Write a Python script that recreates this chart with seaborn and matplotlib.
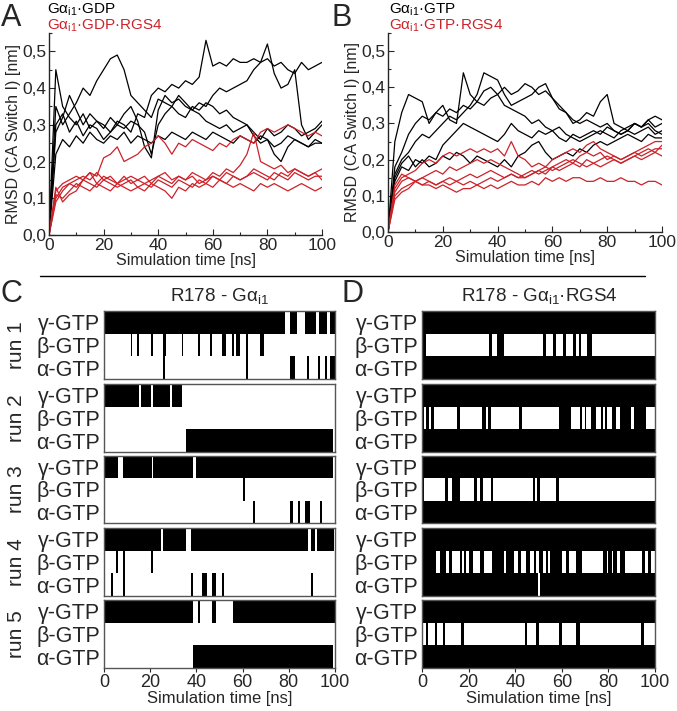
import numpy as np
import pandas as pd
import matplotlib
matplotlib.use("Agg")
import matplotlib.pyplot as plt
import matplotlib.ticker as mtick
from matplotlib.lines import Line2D
import seaborn as sns

# %% Data
# RMSD traces, one value every 2.5 ns (0..100 ns)
time_ns = np.arange(0, 100.1, 2.5)

gdp_runs = [
    [0.0, 0.30, 0.33, 0.28, 0.31, 0.27, 0.30, 0.29, 0.26, 0.28, 0.31, 0.30, 0.28, 0.33, 0.32, 0.38, 0.40, 0.39, 0.41, 0.40, 0.42,
     0.41, 0.43, 0.53, 0.46, 0.47, 0.46, 0.48, 0.47, 0.47, 0.48, 0.47, 0.48, 0.46, 0.47, 0.45, 0.44, 0.47, 0.45, 0.46, 0.47],
    [0.0, 0.35, 0.30, 0.33, 0.36, 0.40, 0.38, 0.42, 0.45, 0.48, 0.49, 0.45, 0.38, 0.36, 0.34, 0.32, 0.37, 0.36, 0.35, 0.38, 0.36,
     0.34, 0.36, 0.35, 0.38, 0.40, 0.39, 0.40, 0.41, 0.42, 0.45, 0.47, 0.52, 0.44, 0.40, 0.41, 0.45, 0.30, 0.26, 0.28, 0.30],
    [0.0, 0.45, 0.35, 0.32, 0.30, 0.33, 0.29, 0.31, 0.30, 0.28, 0.30, 0.29, 0.31, 0.30, 0.28, 0.22, 0.30, 0.33, 0.35, 0.33, 0.32,
     0.35, 0.34, 0.36, 0.35, 0.33, 0.34, 0.32, 0.31, 0.30, 0.27, 0.25, 0.26, 0.22, 0.20, 0.24, 0.26, 0.25, 0.24, 0.26, 0.25],
    [0.0, 0.22, 0.26, 0.24, 0.27, 0.25, 0.28, 0.26, 0.25, 0.27, 0.26, 0.28, 0.25, 0.27, 0.26, 0.25, 0.27, 0.26, 0.28, 0.27, 0.26,
     0.28, 0.27, 0.26, 0.28, 0.27, 0.26, 0.25, 0.27, 0.26, 0.25, 0.27, 0.26, 0.24, 0.25, 0.27, 0.26, 0.25, 0.24, 0.25, 0.25],
    [0.0, 0.28, 0.32, 0.38, 0.34, 0.30, 0.33, 0.31, 0.29, 0.32, 0.30, 0.33, 0.35, 0.31, 0.24, 0.21, 0.34, 0.38, 0.36, 0.37, 0.35,
     0.34, 0.33, 0.31, 0.30, 0.29, 0.30, 0.28, 0.29, 0.30, 0.28, 0.26, 0.29, 0.27, 0.28, 0.30, 0.29, 0.27, 0.28, 0.29, 0.31],
]
gdp_rgs4_runs = [
    [0.0, 0.12, 0.14, 0.15, 0.16, 0.15, 0.17, 0.16, 0.21, 0.22, 0.24, 0.20, 0.21, 0.22, 0.24, 0.25, 0.27, 0.25, 0.22, 0.25, 0.24,
     0.26, 0.25, 0.24, 0.23, 0.25, 0.24, 0.26, 0.27, 0.26, 0.25, 0.28, 0.29, 0.28, 0.29, 0.30, 0.29, 0.28, 0.27, 0.28, 0.27],
    [0.0, 0.10, 0.13, 0.14, 0.15, 0.16, 0.15, 0.17, 0.15, 0.16, 0.14, 0.15, 0.16, 0.15, 0.14, 0.15, 0.16, 0.17, 0.15, 0.16, 0.15,
     0.17, 0.16, 0.15, 0.17, 0.16, 0.18, 0.17, 0.19, 0.22, 0.28, 0.20, 0.19, 0.18, 0.19, 0.17, 0.18, 0.17, 0.16, 0.17, 0.18],
    [0.0, 0.09, 0.12, 0.14, 0.13, 0.15, 0.14, 0.13, 0.15, 0.14, 0.13, 0.14, 0.15, 0.13, 0.14, 0.13, 0.15, 0.14, 0.13, 0.15, 0.14,
     0.13, 0.15, 0.14, 0.16, 0.15, 0.14, 0.16, 0.15, 0.16, 0.17, 0.16, 0.15, 0.17, 0.16, 0.15, 0.17, 0.16, 0.15, 0.16, 0.16],
    [0.0, 0.11, 0.10, 0.12, 0.14, 0.13, 0.12, 0.14, 0.13, 0.12, 0.14, 0.13, 0.12, 0.13, 0.12, 0.14, 0.13, 0.12, 0.10, 0.13, 0.12,
     0.14, 0.13, 0.14, 0.13, 0.15, 0.14, 0.13, 0.14, 0.13, 0.12, 0.14, 0.13, 0.14, 0.13, 0.12, 0.13, 0.14, 0.13, 0.12, 0.13],
    [0.0, 0.13, 0.09, 0.11, 0.12, 0.15, 0.17, 0.14, 0.16, 0.15, 0.14, 0.16, 0.14, 0.15, 0.16, 0.14, 0.16, 0.15, 0.14, 0.16, 0.15,
     0.16, 0.14, 0.15, 0.16, 0.15, 0.17, 0.16, 0.15, 0.16, 0.18, 0.17, 0.16, 0.15, 0.17, 0.16, 0.18, 0.17, 0.16, 0.17, 0.15],
]
gtp_runs = [
    [0.0, 0.25, 0.33, 0.38, 0.37, 0.36, 0.30, 0.33, 0.35, 0.31, 0.30, 0.44, 0.38, 0.36, 0.39, 0.40, 0.38, 0.40, 0.38, 0.39, 0.41,
     0.40, 0.38, 0.39, 0.37, 0.34, 0.33, 0.30, 0.31, 0.33, 0.32, 0.36, 0.38, 0.30, 0.29, 0.28, 0.30, 0.29, 0.31, 0.29, 0.30],
    [0.0, 0.16, 0.20, 0.22, 0.25, 0.27, 0.26, 0.28, 0.30, 0.32, 0.31, 0.33, 0.35, 0.38, 0.44, 0.43, 0.42, 0.38, 0.35, 0.36, 0.37,
     0.38, 0.40, 0.41, 0.37, 0.35, 0.33, 0.31, 0.30, 0.31, 0.30, 0.29, 0.30, 0.28, 0.27, 0.28, 0.27, 0.28, 0.29, 0.27, 0.28],
    [0.0, 0.14, 0.18, 0.17, 0.20, 0.19, 0.21, 0.20, 0.24, 0.26, 0.28, 0.30, 0.29, 0.28, 0.27, 0.26, 0.25, 0.27, 0.30, 0.28, 0.27,
     0.26, 0.28, 0.27, 0.28, 0.29, 0.27, 0.26, 0.25, 0.26, 0.27, 0.28, 0.27, 0.26, 0.28, 0.29, 0.30, 0.29, 0.31, 0.32, 0.31],
    [0.0, 0.15, 0.19, 0.21, 0.18, 0.20, 0.18, 0.19, 0.21, 0.20, 0.22, 0.21, 0.19, 0.21, 0.20, 0.19, 0.18, 0.20, 0.18, 0.21, 0.22,
     0.24, 0.25, 0.22, 0.20, 0.21, 0.22, 0.21, 0.23, 0.22, 0.24, 0.25, 0.24, 0.25, 0.26, 0.27, 0.26, 0.25, 0.27, 0.26, 0.26],
    [0.0, 0.18, 0.22, 0.27, 0.30, 0.32, 0.31, 0.33, 0.32, 0.34, 0.33, 0.35, 0.34, 0.36, 0.35, 0.37, 0.38, 0.35, 0.34, 0.33, 0.32,
     0.30, 0.31, 0.29, 0.28, 0.26, 0.25, 0.27, 0.26, 0.27, 0.28, 0.27, 0.29, 0.28, 0.27, 0.28, 0.30, 0.29, 0.30, 0.28, 0.27],
]
gtp_rgs4_runs = [
    [0.0, 0.12, 0.15, 0.16, 0.17, 0.19, 0.20, 0.19, 0.21, 0.22, 0.21, 0.22, 0.23, 0.22, 0.23, 0.22, 0.23, 0.21, 0.25, 0.21, 0.20,
     0.18, 0.19, 0.18, 0.20, 0.21, 0.22, 0.23, 0.22, 0.24, 0.25, 0.23, 0.22, 0.21, 0.20, 0.21, 0.22, 0.23, 0.24, 0.25, 0.25],
    [0.0, 0.11, 0.14, 0.15, 0.14, 0.15, 0.16, 0.17, 0.16, 0.18, 0.17, 0.18, 0.19, 0.20, 0.19, 0.20, 0.19, 0.18, 0.17, 0.16, 0.15,
     0.16, 0.17, 0.16, 0.18, 0.19, 0.20, 0.19, 0.21, 0.22, 0.21, 0.22, 0.20, 0.21, 0.20, 0.21, 0.22, 0.21, 0.22, 0.23, 0.23],
    [0.0, 0.10, 0.12, 0.13, 0.14, 0.13, 0.14, 0.13, 0.14, 0.15, 0.14, 0.15, 0.16, 0.15, 0.16, 0.17, 0.16, 0.15, 0.16, 0.15, 0.15,
     0.16, 0.17, 0.18, 0.17, 0.18, 0.19, 0.20, 0.19, 0.18, 0.19, 0.18, 0.19, 0.20, 0.19, 0.20, 0.21, 0.20, 0.21, 0.22, 0.21],
    [0.0, 0.09, 0.11, 0.12, 0.14, 0.13, 0.13, 0.12, 0.13, 0.12, 0.11, 0.12, 0.12, 0.13, 0.12, 0.13, 0.12, 0.13, 0.14, 0.13, 0.13,
     0.14, 0.13, 0.15, 0.14, 0.15, 0.14, 0.15, 0.15, 0.14, 0.14, 0.15, 0.14, 0.14, 0.15, 0.14, 0.14, 0.13, 0.14, 0.14, 0.13],
    [0.0, 0.13, 0.16, 0.15, 0.14, 0.15, 0.14, 0.13, 0.14, 0.13, 0.14, 0.13, 0.14, 0.13, 0.14, 0.15, 0.14, 0.15, 0.16, 0.15, 0.16,
     0.17, 0.16, 0.17, 0.18, 0.17, 0.18, 0.19, 0.18, 0.20, 0.19, 0.20, 0.21, 0.20, 0.19, 0.20, 0.21, 0.22, 0.23, 0.22, 0.24],
]

rmsd_ticks = [0.0, 0.1, 0.2, 0.3, 0.4, 0.5]
rmsd_ticklabels = ["0,0", "0,1", "0,2", "0,3", "0,4", "0,5"]
time_ticks = [0, 20, 40, 60, 80, 100]
contact_rows = ["α-GTP", "β-GTP", "γ-GTP"]  # bottom to top
run_names = ["run 1", "run 2", "run 3", "run 4", "run 5"]

# R178 - Gai1: intervals (ns) where the contact is formed
c_gamma = [
    [(0, 78.3), (80.4, 83.6), (86.8, 91.6), (93.0, 96.4), (97.8, 100)],
    [(0, 15.2), (16.2, 20.5), (21.3, 28.5), (29.4, 33.6)],
    [(0, 6.2), (8.3, 20.6), (21.3, 38.7), (39.7, 99.3)],
    [(0, 24.5), (25.7, 35.5), (37.7, 88.3), (89.4, 91.2), (92.3, 99.4)],
    [(0, 38.7), (40.9, 41.5), (46.8, 48.5), (56.0, 100)],
]
c_beta = [
    [(11.5, 12.3), (14.4, 15.2), (20.3, 21.3), (25.7, 26.8), (33.6, 34.4), (40.9, 41.6), (45.9, 46.8),
     (51.0, 52.9), (55.4, 56.1), (57.3, 58.7), (61.5, 62.2), (67.4, 69.1)],
    [],
    [(60.2, 60.9)],
    [(5.4, 6.2), (8.3, 9.1), (20.3, 21.2)],
    [],
]
c_alpha = [
    [(25.7, 26.4), (61.5, 62.2), (80.4, 82.5), (87.7, 88.6), (92.6, 93.5), (95.5, 96.7), (97.8, 100)],
    [(35.5, 99.3)],
    [(64.5, 65.2), (80.4, 81.9), (84.0, 85.0), (87.0, 89.0), (93.4, 94.2)],
    [(3.2, 3.9), (8.3, 9.1), (37.7, 38.6), (42.6, 44.5), (46.8, 48.6), (50.9, 51.8), (89.4, 90.3)],
    [(38.7, 99.3)],
]

# R178 - Gai1.RGS4: contacts are almost always formed, so list the breaks
d_gamma_off = [[], [], [], [], []]
d_beta_off = [
    [(1.7, 28.9), (29.9, 32.3), (35.0, 52.0), (53.3, 56.2), (57.4, 60.7), (61.8, 64.9), (66.3, 67.2),
     (68.2, 70.8), (73.0, 100)],
    [(0.7, 1.9), (2.9, 4.0), (5.0, 15.1), (16.1, 25.8), (27.3, 28.4), (29.7, 41.8), (43.0, 59.0), (64.0, 67.9),
     (68.8, 69.8), (70.5, 72.4), (74.8, 76.7), (77.7, 78.7), (79.5, 81.5), (83.4, 84.8), (89.8, 91.0), (96.0, 100)],
    [(0.9, 9.8), (11.3, 12.8), (16.1, 22.2), (23.6, 25.1), (26.2, 29.6), (30.5, 47.6), (48.5, 49.2),
     (50.5, 57.6), (59.0, 100)],
    [(5.9, 7.6), (10.5, 11.5), (13.0, 16.2), (17.2, 18.1), (18.8, 20.2), (21.9, 24.8), (26.5, 29.9), (35.2, 36.0),
     (39.5, 41.3), (42.3, 44.8), (46.3, 48.0), (49.1, 50.3), (52.0, 53.2), (54.2, 54.9), (59.9, 62.0), (63.2, 66.3),
     (68.8, 77.8), (79.2, 79.9), (81.4, 82.1), (83.5, 85.0), (87.1, 94.3), (95.7, 96.8), (98.1, 100)],
    [(0.3, 1.7), (2.4, 5.6), (6.5, 8.9), (9.9, 16.8), (17.9, 44.0), (45.1, 49.0), (50.0, 59.0), (60.0, 66.2),
     (67.9, 94.1), (95.3, 100)],
]
d_alpha_off = [[], [], [], [(49.8, 50.5)], []]

RED = "#cc2229"
W, H = 677, 711


def on_from_off(gaps):
    spans = []
    start = 0
    for a, b in gaps:
        if a > start:
            spans.append((start, a))
        start = b
    if start < 100:
        spans.append((start, 100))
    return spans


def px_rect(l, t, r, b):
    return [l / W, 1 - b / H, (r - l) / W, (b - t) / H]


def fx(x):
    return x / W


def fy(y):
    return 1 - y / H


# %% Style
sns.set_style("ticks")
plt.rcParams['font.family'] = ['Liberation Sans', 'DejaVu Sans']
plt.rcParams['mathtext.fontset'] = 'custom'
plt.rcParams['mathtext.rm'] = 'Liberation Sans'
plt.rcParams['mathtext.it'] = 'Liberation Sans:italic'
plt.rcParams['axes.linewidth'] = 1.0

fig = plt.figure(figsize=(W / 100, H / 100), dpi=100)


def rmsd_panel(ax, black_runs, red_runs):
    recs = []
    for system, runs in (("black", black_runs), ("red", red_runs)):
        for i, vals in enumerate(runs):
            for t, v in zip(time_ns, vals):
                recs.append({"system": system, "run": i, "time": t, "rmsd": v})
    df = pd.DataFrame(recs)
    sns.lineplot(data=df[df.system == "black"], x="time", y="rmsd", units="run", estimator=None,
                 color="black", lw=0.9, sort=False, ax=ax)
    sns.lineplot(data=df[df.system == "red"], x="time", y="rmsd", units="run", estimator=None,
                 color=RED, lw=0.9, sort=False, ax=ax)
    ax.set_xlim(0, 100)
    ax.set_ylim(0, 0.55)
    ax.spines["top"].set_visible(False)
    ax.spines["right"].set_visible(False)
    ax.set_xticks(time_ticks)
    ax.set_yticks(rmsd_ticks)
    ax.set_yticklabels(rmsd_ticklabels)
    ax.xaxis.set_minor_locator(mtick.MultipleLocator(10))
    ax.yaxis.set_minor_locator(mtick.MultipleLocator(0.05))
    ax.tick_params(which="major", direction="in", length=4, width=0.8, labelsize=12.5, pad=2)
    ax.tick_params(which="minor", direction="in", length=2, width=0.8)
    ax.set_xlabel("Simulation time [ns]", fontsize=11.5, labelpad=0)
    ax.set_ylabel("RMSD (CA Switch I) [nm]", fontsize=11.5, labelpad=1)


ax_a = fig.add_axes(px_rect(49, 33, 322, 235))
rmsd_panel(ax_a, gdp_runs, gdp_rgs4_runs)
ax_b = fig.add_axes(px_rect(388, 33, 662, 232))
rmsd_panel(ax_b, gtp_runs, gtp_rgs4_runs)

fig.text(fx(1), fy(26), "A", fontsize=22)
fig.text(fx(331), fy(26), "B", fontsize=22)
fig.text(fx(47), fy(14), r"Gα$_{\mathrm{i1}}$·GDP", fontsize=11, color="black")
fig.text(fx(47), fy(30), r"Gα$_{\mathrm{i1}}$·GDP·RGS4", fontsize=11, color=RED)
fig.text(fx(389), fy(14), r"Gα$_{\mathrm{i1}}$·GTP", fontsize=11, color="black")
fig.text(fx(389), fy(30), r"Gα$_{\mathrm{i1}}$·GTP·RGS4", fontsize=11, color=RED)

# divider line between the RMSD panels and the contact panels
fig.add_artist(Line2D([fx(40), fx(645)], [fy(276), fy(276)], color="black", lw=1.0))

# %% Contact panels
box_rows = [(311, 379), (384, 452), (456, 523), (528, 596), (600, 668)]


def contact_box(ax, gamma, beta, alpha, show_x):
    for row, spans in enumerate([alpha, beta, gamma]):
        ax.broken_barh([(a, b - a) for a, b in spans], (row, 1), facecolors="black", edgecolor="none")
    ax.set_xlim(0, 100)
    ax.set_ylim(0, 3)
    ax.set_yticks([0.5, 1.5, 2.5])
    ax.set_yticklabels(contact_rows, fontsize=15.5)
    ax.tick_params(axis="y", length=0, pad=3)
    for s in ax.spines.values():
        s.set_visible(True)
        s.set_color("#555555")
        s.set_linewidth(1.0)
    if show_x:
        ax.set_xticks(time_ticks)
        ax.tick_params(axis="x", direction="out", length=3, width=0.8, labelsize=13, pad=1)
        ax.set_xlabel("Simulation time [ns]", fontsize=12, labelpad=0)
    else:
        ax.set_xticks([])


for i, (top, bot) in enumerate(box_rows):
    last = i == len(box_rows) - 1
    ax_c = fig.add_axes(px_rect(104, top, 335, bot))
    contact_box(ax_c, c_gamma[i], c_beta[i], c_alpha[i], last)
    ax_d = fig.add_axes(px_rect(422, top, 655, bot))
    contact_box(ax_d, on_from_off(d_gamma_off[i]), on_from_off(d_beta_off[i]),
                on_from_off(d_alpha_off[i]), last)
    fig.text(fx(17), fy((top + bot) / 2), run_names[i], rotation=90, fontsize=15,
             ha="center", va="center")

fig.text(fx(1), fy(302), "C", fontsize=22)
fig.text(fx(342), fy(302), "D", fontsize=22)
fig.text(fx(219), fy(301), r"R178 - Gα$_{\mathrm{i1}}$", fontsize=13.5, ha="center")
fig.text(fx(539), fy(301), r"R178 - Gα$_{\mathrm{i1}}$·RGS4", fontsize=13.5, ha="center")

fig.savefig("out.png", dpi=100)
